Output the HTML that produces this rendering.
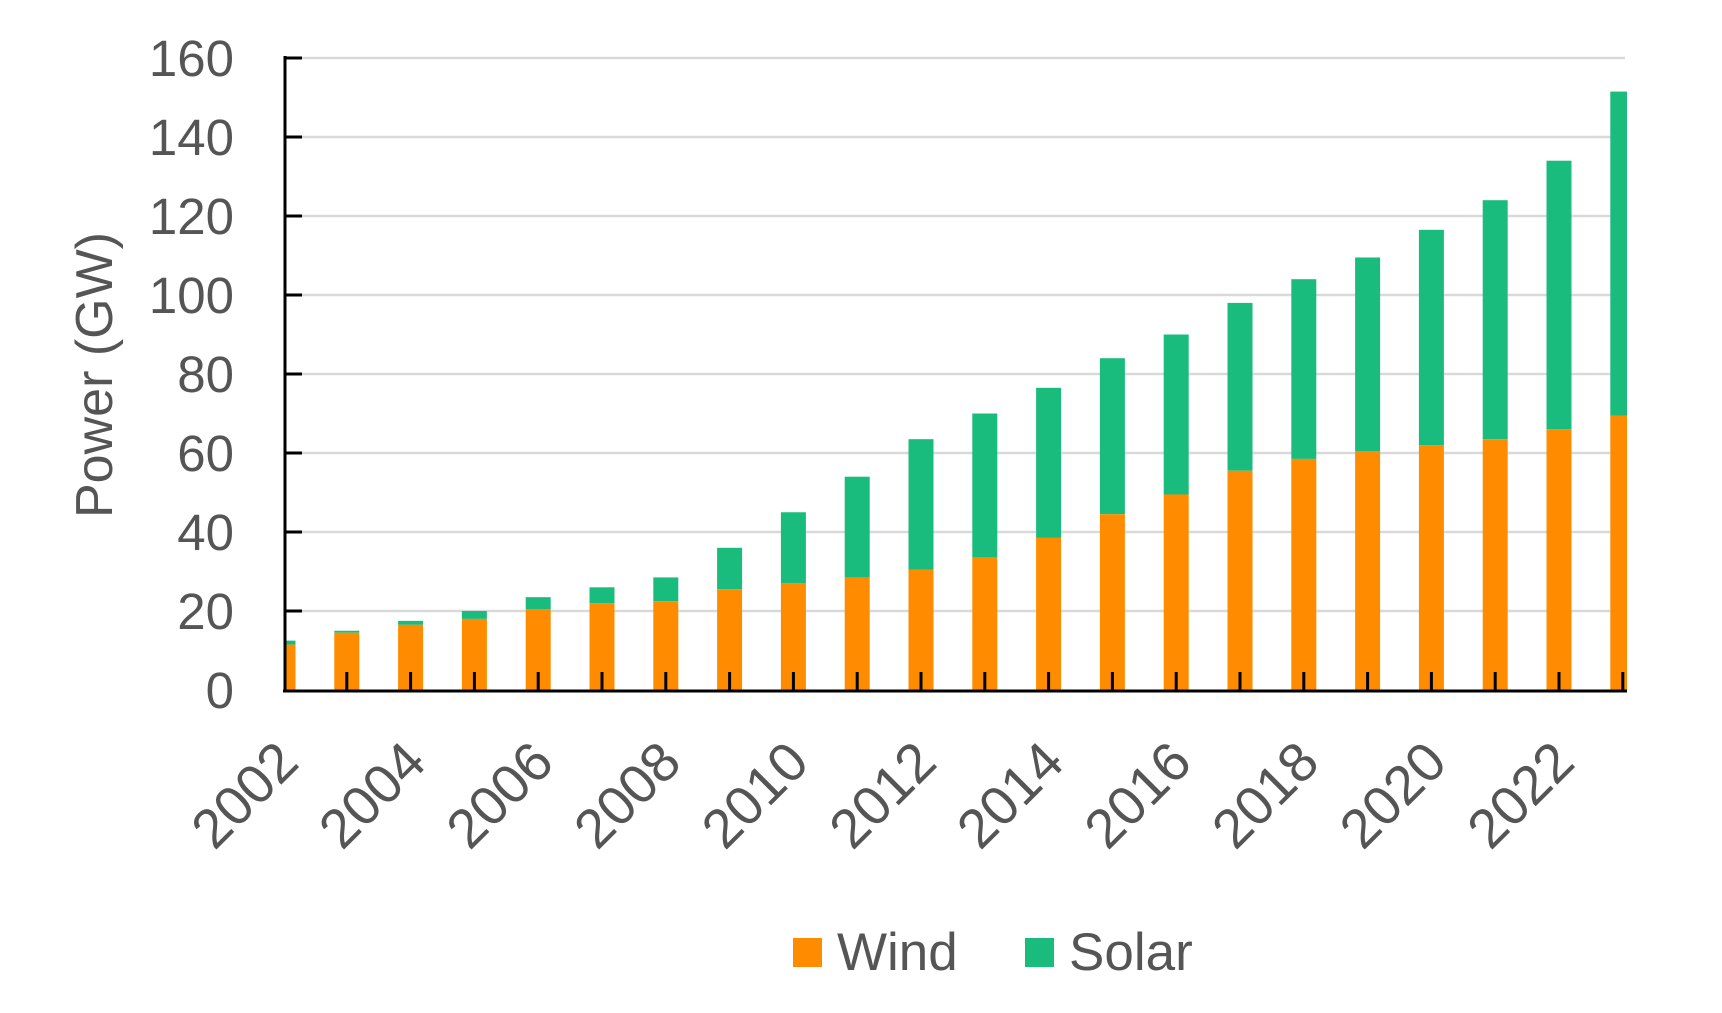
<!DOCTYPE html>
<html><head><meta charset="utf-8"><style>html,body{margin:0;padding:0;background:#fff}svg{display:block}</style></head>
<body>
<svg width="1722" height="1013" viewBox="0 0 1722 1013" xmlns="http://www.w3.org/2000/svg" font-family="Liberation Sans, sans-serif" fill="#555">
<defs><clipPath id="c"><rect x="285" y="0" width="1342" height="700"/></clipPath></defs>
<g stroke="#d9d9d9" stroke-width="2.5">
<line x1="285" x2="1625" y1="611" y2="611"/><line x1="285" x2="1625" y1="532" y2="532"/>
<line x1="285" x2="1625" y1="453" y2="453"/><line x1="285" x2="1625" y1="374" y2="374"/>
<line x1="285" x2="1625" y1="295" y2="295"/><line x1="285" x2="1625" y1="216" y2="216"/>
<line x1="285" x2="1625" y1="137" y2="137"/><line x1="285" x2="1625" y1="58" y2="58"/>
</g>
<g id="bars" clip-path="url(#c)"></g>
<g stroke="#000" stroke-width="3" id="ticks"></g>
<line x1="285" y1="56" x2="285" y2="692" stroke="#000" stroke-width="3"/>
<line x1="283" y1="691" x2="1627" y2="691" stroke="#000" stroke-width="3"/>
<g font-size="51" text-anchor="end" id="yl"></g>
<g font-size="55" text-anchor="end" id="xl"></g>
<text transform="translate(112,375) rotate(-90)" font-size="52" text-anchor="middle">Power (GW)</text>
<rect x="793" y="938" width="29" height="29" fill="#FF8C00"/>
<text x="837" y="970" font-size="53">Wind</text>
<rect x="1025" y="938" width="29" height="29" fill="#1ABC7E"/>
<text x="1069" y="970" font-size="53">Solar</text>
<script>
var d=[[11.5,12.5],[14.5,15],[16.5,17.5],[18,20],[20.5,23.5],[22,26],[22.5,28.5],[25.5,36],[27,45],[28.5,54],[30.5,63.5],[33.5,70],[38.5,76.5],[44.5,84],[49.5,90],[55.5,98],[58.5,104],[60.5,109.5],[62,116.5],[63.5,124],[66,134],[69.5,151.5]];
var ns="http://www.w3.org/2000/svg";function el(t,a,p,tx){var e=document.createElementNS(ns,t);for(var k in a)e.setAttribute(k,a[k]);if(tx)e.textContent=tx;document.getElementById(p).appendChild(e);}
function Y(v){return 690-v*3.95;}
d.forEach(function(b,i){var cx=283+63.8*i;
el('rect',{x:cx-12.5,y:Y(b[1]),width:25,height:Y(b[0])-Y(b[1]),fill:'#1ABC7E'},'bars');
el('rect',{x:cx-12.5,y:Y(b[0]),width:25,height:690-Y(b[0]),fill:'#FF8C00'},'bars');
if(i>0)el('line',{x1:cx,x2:cx,y1:672,y2:690},'ticks');
if(i%2==0)el('text',{transform:'translate('+(cx+18)+',765) rotate(-45)'},'xl',String(2002+i));});
for(var v=0;v<=160;v+=20){el('text',{x:234,y:Y(v)+18},'yl',String(v));if(v>0)el('line',{x1:285,x2:302,y1:Y(v),y2:Y(v)},'ticks');}
</script>
</svg>
</body></html>
